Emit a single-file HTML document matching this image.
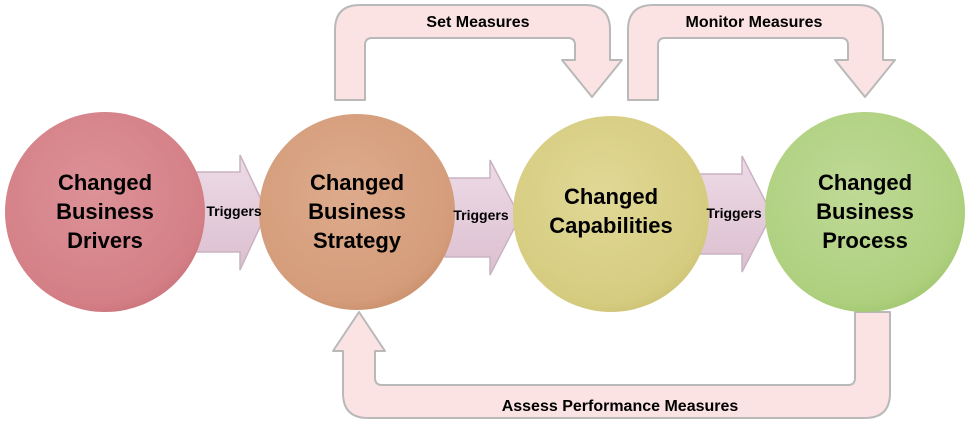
<!DOCTYPE html>
<html><head><meta charset="utf-8"><style>
html,body{margin:0;padding:0;background:#fff;}
svg{display:block;}
text{font-family:"Liberation Sans",sans-serif;font-weight:bold;fill:#000;}
</style></head><body>
<svg width="969" height="431" viewBox="0 0 969 431">
<defs>
<radialGradient id="g1" cx="0.45" cy="0.4" r="0.65"><stop offset="0" stop-color="#dc9298"/><stop offset="0.85" stop-color="#d47f86"/><stop offset="1" stop-color="#c87078"/></radialGradient>
<radialGradient id="g2" cx="0.45" cy="0.4" r="0.65"><stop offset="0" stop-color="#ddab8c"/><stop offset="0.85" stop-color="#d49c7a"/><stop offset="1" stop-color="#c98d6b"/></radialGradient>
<radialGradient id="g3" cx="0.45" cy="0.4" r="0.65"><stop offset="0" stop-color="#e0d896"/><stop offset="0.85" stop-color="#d6cc80"/><stop offset="1" stop-color="#cabf70"/></radialGradient>
<radialGradient id="g4" cx="0.45" cy="0.4" r="0.65"><stop offset="0" stop-color="#bfd996"/><stop offset="0.85" stop-color="#aed07e"/><stop offset="1" stop-color="#9ec36c"/></radialGradient>
<linearGradient id="ta" x1="0" y1="0" x2="0" y2="1"><stop offset="0" stop-color="#eddbe6"/><stop offset="1" stop-color="#dcbfd0"/></linearGradient>
</defs>
<g fill="#fbe3e3" stroke="#b9b9b9" stroke-width="2" stroke-linejoin="round">
<!-- top arrow 1 -->
<path d="M335 100 L335 30 Q335 5 360 5 L585 5 Q610 5 610 30 L610 60 L622 60 L592 97 L562 60 L575 60 L575 45 Q575 38 568 38 L372 38 Q365 38 365 45 L365 100 Z"/>
<!-- top arrow 2 -->
<path d="M628 100 L628 30 Q628 5 653 5 L858 5 Q883 5 883 30 L883 60 L895 60 L865 97 L835 60 L848 60 L848 45 Q848 38 841 38 L665 38 Q658 38 658 45 L658 100 Z"/>
<!-- bottom arrow -->
<path d="M855 312 L890 312 L890 393 Q890 418 865 418 L368 418 Q343 418 343 393 L343 351 L333 351 L359 312 L385 351 L375 351 L375 378 Q375 385 382 385 L848 385 Q855 385 855 378 Z"/>
</g>
<g fill="url(#ta)" stroke="#c9b3c2" stroke-width="1.5">
<path d="M197 172 L240 172 L240 155 L267 212 L240 270 L240 252 L197 252 Z"/>
<path d="M445 178 L490 178 L490 160 L520 217 L490 275 L490 257 L445 257 Z"/>
<path d="M697 174 L742 174 L742 156 L772 214 L742 272 L742 254 L697 254 Z"/>
</g>
<circle cx="105" cy="212" r="100" fill="url(#g1)"/>
<circle cx="357" cy="212" r="98" fill="url(#g2)"/>
<circle cx="611" cy="214" r="98" fill="url(#g3)"/>
<circle cx="865" cy="212" r="100" fill="url(#g4)"/>
<g font-size="22" text-anchor="middle">
<text x="105" y="190">Changed</text><text x="105" y="219">Business</text><text x="105" y="248">Drivers</text>
<text x="357" y="190">Changed</text><text x="357" y="219">Business</text><text x="357" y="248">Strategy</text>
<text x="611" y="204">Changed</text><text x="611" y="233">Capabilities</text>
<text x="865" y="190">Changed</text><text x="865" y="219">Business</text><text x="865" y="248">Process</text>
</g>
<g font-size="14" text-anchor="middle">
<text x="234" y="216">Triggers</text>
<text x="481" y="220">Triggers</text>
<text x="734" y="218">Triggers</text>
</g>
<g font-size="16" text-anchor="middle">
<text x="478" y="27">Set Measures</text>
<text x="754" y="27">Monitor Measures</text>
<text x="620" y="411">Assess Performance Measures</text>
</g>
</svg>
</body></html>
